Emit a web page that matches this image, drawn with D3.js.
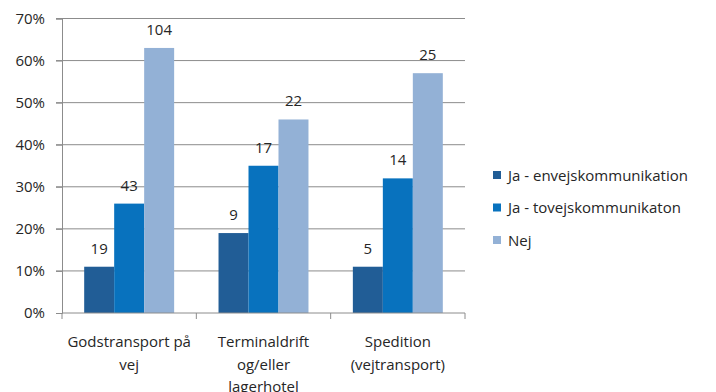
<!DOCTYPE html>
<html><head><meta charset="utf-8">
<script src="https://cdn.jsdelivr.net/npm/d3@7"></script>
<style>body{margin:0;background:#fff}svg{display:block}text{font-family:"Open Sans",Lato,sans-serif;fill:#262626}</style>
</head><body><svg id="c" width="716" height="392"></svg>
<script>
const categories = [["Godstransport på","vej"],["Terminaldrift","og/eller","lagerhotel"],["Spedition","(vejtransport)"]];
const seriesNames = ["Ja - envejskommunikation","Ja - tovejskommunikaton","Nej"];
const colors = ["#215D96","#0872BE","#93B1D6"];
const pctValues = [[11,26,63],[19,35,46],[11,32,57]];
const countLabels = [[19,43,104],[9,17,22],[5,14,25]];
const yTicks = [0,10,20,30,40,50,60,70];

const FS = "15px";
const svg = d3.select("#c");
const L=62, R=465, T=18.5, B=313;
const x = d3.scaleBand().domain(d3.range(categories.length)).range([L,R]).paddingInner(0).paddingOuter(0);
const xs = d3.scaleBand().domain(d3.range(seriesNames.length)).range([0,x.bandwidth()]).paddingOuter(0.74).paddingInner(0);
const y = d3.scaleLinear().domain([0,70]).range([B,T]);

// gridlines
svg.append("g").selectAll("line").data(yTicks.filter(d=>d>0)).join("line")
  .attr("x1",L-6).attr("x2",R).attr("y1",d=>y(d)).attr("y2",d=>y(d))
  .attr("stroke","#8c8c8c").attr("stroke-width",1);
// y axis
const ya = svg.append("g").attr("transform",`translate(${L},0)`).call(d3.axisLeft(y).tickValues(yTicks).tickFormat(d=>d+"%").tickSize(6).tickPadding(11));
ya.select(".domain").attr("stroke","#8c8c8c");
ya.selectAll(".tick line").attr("stroke","#8c8c8c");
ya.selectAll("text").style("font-size",FS).style("font-family","'Open Sans',sans-serif").attr("fill","#262626");

// bars
const g = svg.append("g").selectAll("g").data(pctValues).join("g").attr("transform",(d,i)=>`translate(${x(i)},0)`);
g.selectAll("rect").data(d=>d).join("rect")
  .attr("x",(d,j)=>xs(j)).attr("width",xs.bandwidth())
  .attr("y",d=>y(d)).attr("height",d=>B-y(d)).attr("fill",(d,j)=>colors[j]);
g.selectAll("text").data((d,i)=>d.map((v,j)=>({v,lab:countLabels[i][j]}))).join("text")
  .attr("x",(d,j)=>xs(j)+xs.bandwidth()/2).attr("y",d=>y(d.v)-13)
  .attr("text-anchor","middle").style("font-size",FS).text(d=>d.lab);

// x axis
svg.append("line").attr("x1",L).attr("x2",R).attr("y1",B).attr("y2",B).attr("stroke","#8c8c8c");
svg.append("g").selectAll("line").data(d3.range(categories.length+1)).join("line")
  .attr("x1",i=>L+i*x.bandwidth()).attr("x2",i=>L+i*x.bandwidth()).attr("y1",B).attr("y2",B+6).attr("stroke","#8c8c8c");
svg.append("g").selectAll("text").data(categories).join("text")
  .attr("text-anchor","middle").attr("x",(d,i)=>x(i)+x.bandwidth()/2).attr("y",347)
  .style("font-size",FS)
  .each(function(d){d3.select(this).selectAll("tspan").data(d).join("tspan")
     .attr("x",d3.select(this).attr("x")).attr("dy",(t,k)=>k?22.5:0).text(t=>t);});

// legend
const lg = svg.append("g").selectAll("g").data(seriesNames).join("g")
  .attr("transform",(d,i)=>`translate(493,${175+i*32.5})`);
lg.append("rect").attr("x",0).attr("y",-4).attr("width",8).attr("height",8).attr("fill",(d,i)=>colors[i]);
lg.append("text").attr("x",15).attr("y",5.5).style("font-size",FS).text(d=>d);
</script></body></html>
